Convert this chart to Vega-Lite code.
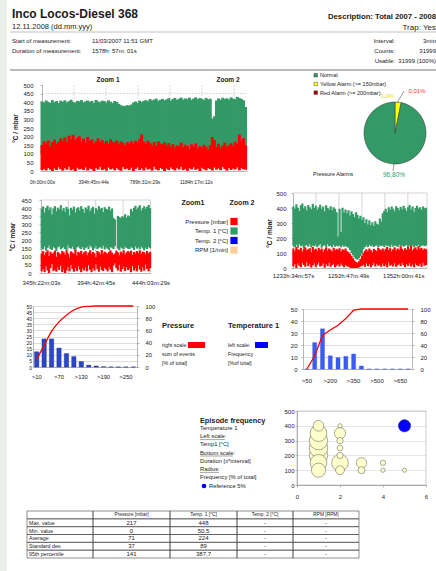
{
"$schema":"https://vega.github.io/schema/vega-lite/v6.json",
"width":436,"height":571,"padding":0,"autosize":{"type":"none"},"background":"white",
"config":{"view":{"stroke":null},"font":"Liberation Sans",
 "text":{"font":"Liberation Sans","fontSize":6,"color":"#1a1a1a","align":"left","baseline":"alphabetic"},
 "axis":{"labelFont":"Liberation Sans","labelFontSize":6,"labelColor":"#1a1a1a","domainColor":"#888","domainWidth":0.6,"tickColor":"#888","tickWidth":0.6,"tickSize":2,"labelPadding":2,"grid":false,"titleFont":"Liberation Sans","labelOverlap":false,"labelFlush":false,"titleColor":"#1a1a1a"}},
"resolve":{"scale":{"x":"independent","y":"independent","color":"independent","size":"independent","theta":"independent"},"axis":{"x":"independent","y":"independent"},"legend":{"color":"independent","size":"independent"}},
"layer":[
{"data":{"values":[
{"t":0,"gh":405,"ph":150,"pl":5},{"t":16,"gh":398,"ph":172,"pl":12},{"t":32,"gh":410,"ph":160,"pl":3},{"t":48,"gh":402,"ph":178,"pl":18},{"t":64,"gh":396,"ph":145,"pl":8},{"t":80,"gh":412,"ph":168,"pl":0},{"t":96,"gh":400,"ph":182,"pl":14},{"t":112,"gh":407,"ph":158,"pl":6},{"t":128,"gh":395,"ph":170,"pl":22},{"t":144,"gh":409,"ph":190,"pl":10},
{"t":160,"gh":403,"ph":175,"pl":2},{"t":176,"gh":411,"ph":196,"pl":16},{"t":192,"gh":399,"ph":168,"pl":7},{"t":208,"gh":406,"ph":205,"pl":25},{"t":224,"gh":414,"ph":185,"pl":4},{"t":240,"gh":401,"ph":210,"pl":11},{"t":256,"gh":397,"ph":178,"pl":0},{"t":272,"gh":408,"ph":192,"pl":19},{"t":288,"gh":404,"ph":202,"pl":9},{"t":304,"gh":412,"ph":170,"pl":13},
{"t":320,"gh":399,"ph":188,"pl":6},{"t":336,"gh":405,"ph":165,"pl":21},{"t":352,"gh":410,"ph":198,"pl":3},{"t":368,"gh":402,"ph":176,"pl":15},{"t":384,"gh":408,"ph":183,"pl":10},{"t":400,"gh":396,"ph":160,"pl":0},{"t":416,"gh":413,"ph":172,"pl":17},{"t":432,"gh":404,"ph":190,"pl":8},{"t":448,"gh":400,"ph":168,"pl":24},{"t":464,"gh":409,"ph":180,"pl":5},
{"t":480,"gh":406,"ph":162,"pl":12},{"t":496,"gh":398,"ph":175,"pl":2},{"t":512,"gh":411,"ph":158,"pl":20},{"t":528,"gh":403,"ph":184,"pl":9},{"t":544,"gh":395,"ph":170,"pl":14},{"t":560,"gh":407,"ph":166,"pl":4},{"t":576,"gh":401,"ph":178,"pl":18},{"t":592,"gh":390,"ph":155,"pl":7},{"t":608,"gh":382,"ph":172,"pl":1},{"t":624,"gh":379,"ph":163,"pl":23},
{"t":640,"gh":377,"ph":150,"pl":10},{"t":656,"gh":383,"ph":168,"pl":15},{"t":672,"gh":380,"ph":158,"pl":5},{"t":688,"gh":386,"ph":172,"pl":19},{"t":704,"gh":398,"ph":160,"pl":0},{"t":720,"gh":404,"ph":175,"pl":12},{"t":736,"gh":396,"ph":165,"pl":22},{"t":752,"gh":409,"ph":185,"pl":6},{"t":768,"gh":401,"ph":213,"pl":16},{"t":784,"gh":407,"ph":170,"pl":3},
{"t":800,"gh":412,"ph":158,"pl":20},{"t":816,"gh":405,"ph":176,"pl":8},{"t":832,"gh":418,"ph":162,"pl":13},{"t":848,"gh":410,"ph":150,"pl":2},{"t":864,"gh":415,"ph":168,"pl":25},{"t":880,"gh":421,"ph":145,"pl":9},{"t":896,"gh":408,"ph":172,"pl":4},{"t":912,"gh":414,"ph":160,"pl":17},{"t":928,"gh":419,"ph":155,"pl":11},{"t":944,"gh":411,"ph":166,"pl":0},
{"t":960,"gh":416,"ph":148,"pl":14},{"t":976,"gh":423,"ph":162,"pl":6},{"t":992,"gh":409,"ph":140,"pl":21},{"t":1008,"gh":418,"ph":156,"pl":10},{"t":1024,"gh":425,"ph":135,"pl":3},{"t":1040,"gh":413,"ph":150,"pl":18},{"t":1056,"gh":420,"ph":142,"pl":8},{"t":1072,"gh":427,"ph":165,"pl":24},{"t":1088,"gh":415,"ph":138,"pl":5},{"t":1104,"gh":422,"ph":152,"pl":12},
{"t":1120,"gh":418,"ph":146,"pl":1},{"t":1136,"gh":426,"ph":130,"pl":16},{"t":1152,"gh":414,"ph":155,"pl":9},{"t":1168,"gh":421,"ph":140,"pl":22},{"t":1184,"gh":428,"ph":160,"pl":7},{"t":1200,"gh":417,"ph":128,"pl":13},{"t":1216,"gh":424,"ph":145,"pl":0},{"t":1232,"gh":419,"ph":136,"pl":19},{"t":1248,"gh":412,"ph":152,"pl":10},{"t":1264,"gh":425,"ph":142,"pl":4},
{"t":1280,"gh":416,"ph":125,"pl":17},{"t":1296,"gh":420,"ph":150,"pl":11},{"t":1312,"gh":305,"ph":198,"pl":3},{"t":1328,"gh":318,"ph":180,"pl":20},{"t":1344,"gh":410,"ph":140,"pl":8},{"t":1360,"gh":422,"ph":158,"pl":15},{"t":1376,"gh":414,"ph":132,"pl":5},{"t":1392,"gh":426,"ph":148,"pl":23},{"t":1408,"gh":418,"ph":165,"pl":12},{"t":1424,"gh":423,"ph":140,"pl":2},
{"t":1440,"gh":415,"ph":150,"pl":18},{"t":1456,"gh":428,"ph":162,"pl":6},{"t":1472,"gh":420,"ph":145,"pl":14},{"t":1488,"gh":417,"ph":170,"pl":9},{"t":1504,"gh":431,"ph":158,"pl":21},{"t":1520,"gh":424,"ph":212,"pl":4},{"t":1536,"gh":419,"ph":175,"pl":16},{"t":1552,"gh":411,"ph":190,"pl":10},{"t":1568,"gh":372,"ph":150,"pl":7}
]},
"layer":[
{"data":{"values":[{"g":246.5},{"g":493},{"g":739.5},{"g":986},{"g":1232.5},{"g":1479}]},"mark":{"type":"rule","color":"#999","strokeWidth":0.5,"strokeDash":[1.5,1.5]},
 "encoding":{"x":{"field":"g","type":"quantitative","scale":{"domain":[0,1579],"range":[42,247],"nice":false,"zero":false}},"y":{"datum":0,"type":"quantitative","scale":{"domain":[0,500],"range":[171,85],"nice":false,"zero":false}},"y2":{"datum":500}}},
{"data":{"values":[{}]},"mark":{"type":"rule","color":"#999","strokeWidth":0.5,"strokeDash":[1.5,1.5]},"encoding":{"x":{"datum":0,"type":"quantitative"},"x2":{"datum":1579},"y":{"datum":450,"type":"quantitative"}}},
{"mark":{"type":"rule","color":"#339966","strokeWidth":3},
 "encoding":{"x":{"field":"t","type":"quantitative","title":null,"axis":{"orient":"bottom","offset":-400,"values":[0,394.76,789.52,1184.29],"labelExpr":"datum.value<1?'0h:00m:00s':datum.value<400?'394h:45m:44s':datum.value<800?'789h:31m:29s':'1184h:17m:12s'","tickSize":0,"labelPadding":8,"labelFontSize":4.8}},
  "y":{"field":"gh","type":"quantitative","title":"°C / mbar","axis":{"orient":"left","offset":-42,"values":[0,50,100,150,200,250,300,350,400,450,500],"titleX":-27,"titleY":128,"titleFontSize":6.5,"titleFontWeight":"bold","titleAngle":-90,"titleAlign":"center","titleBaseline":"middle","tickSize":2,"labelPadding":7,"labelFontSize":6}},
  "y2":{"datum":100}}},
{"mark":{"type":"rule","color":"#ff0000","strokeWidth":3},"encoding":{"x":{"field":"t","type":"quantitative"},"y":{"field":"ph","type":"quantitative"},"y2":{"field":"pl"}}}
]},
{"data":{"values":[
{"t":346.0,"gh":395,"gl":150,"ph":120,"pl":10},{"t":347.3,"gh":410,"gl":145,"ph":135,"pl":25},{"t":348.6,"gh":372,"gl":162,"ph":110,"pl":5},{"t":350.0,"gh":402,"gl":138,"ph":128,"pl":40},{"t":351.3,"gh":415,"gl":155,"ph":140,"pl":15},{"t":352.6,"gh":388,"gl":170,"ph":105,"pl":0},{"t":353.9,"gh":405,"gl":148,"ph":132,"pl":30},{"t":355.2,"gh":360,"gl":142,"ph":118,"pl":55},{"t":356.6,"gh":398,"gl":160,"ph":125,"pl":12},{"t":357.9,"gh":412,"gl":152,"ph":138,"pl":20},
{"t":359.2,"gh":380,"gl":135,"ph":100,"pl":8},{"t":360.5,"gh":403,"gl":158,"ph":130,"pl":35},{"t":361.8,"gh":392,"gl":165,"ph":122,"pl":18},{"t":363.2,"gh":418,"gl":146,"ph":115,"pl":45},{"t":364.5,"gh":385,"gl":153,"ph":136,"pl":5},{"t":365.8,"gh":400,"gl":160,"ph":128,"pl":22},{"t":367.1,"gh":376,"gl":148,"ph":112,"pl":0},{"t":368.4,"gh":408,"gl":140,"ph":140,"pl":15},{"t":369.8,"gh":395,"gl":172,"ph":120,"pl":38},{"t":371.1,"gh":355,"gl":155,"ph":95,"pl":10},
{"t":372.4,"gh":402,"gl":150,"ph":133,"pl":50},{"t":373.7,"gh":390,"gl":163,"ph":126,"pl":25},{"t":375.0,"gh":410,"gl":145,"ph":118,"pl":8},{"t":376.4,"gh":372,"gl":138,"ph":142,"pl":30},{"t":377.7,"gh":398,"gl":158,"ph":108,"pl":12},{"t":379.0,"gh":405,"gl":166,"ph":130,"pl":42},{"t":380.3,"gh":385,"gl":152,"ph":124,"pl":20},{"t":381.6,"gh":412,"gl":147,"ph":137,"pl":5},{"t":383.0,"gh":395,"gl":160,"ph":115,"pl":28},{"t":384.3,"gh":370,"gl":143,"ph":128,"pl":15},
{"t":385.6,"gh":404,"gl":155,"ph":135,"pl":35},{"t":386.9,"gh":392,"gl":162,"ph":110,"pl":10},{"t":388.2,"gh":415,"gl":148,"ph":126,"pl":48},{"t":389.6,"gh":380,"gl":170,"ph":140,"pl":20},{"t":390.9,"gh":398,"gl":158,"ph":118,"pl":5},{"t":392.2,"gh":408,"gl":140,"ph":130,"pl":30},{"t":393.5,"gh":365,"gl":152,"ph":122,"pl":15},{"t":394.8,"gh":400,"gl":165,"ph":98,"pl":55},{"t":396.2,"gh":388,"gl":147,"ph":136,"pl":25},{"t":397.5,"gh":412,"gl":156,"ph":128,"pl":8},
{"t":398.8,"gh":395,"gl":160,"ph":115,"pl":40},{"t":400.1,"gh":402,"gl":150,"ph":142,"pl":18},{"t":401.4,"gh":375,"gl":168,"ph":120,"pl":12},{"t":402.8,"gh":406,"gl":145,"ph":132,"pl":32},{"t":404.1,"gh":395,"gl":158,"ph":125,"pl":22},{"t":405.4,"gh":390,"gl":150,"ph":118,"pl":10},{"t":406.7,"gh":410,"gl":142,"ph":130,"pl":38},{"t":408.0,"gh":385,"gl":160,"ph":140,"pl":20},{"t":409.4,"gh":398,"gl":155,"ph":125,"pl":5},{"t":410.7,"gh":340,"gl":148,"ph":112,"pl":45},
{"t":412.0,"gh":330,"gl":165,"ph":120,"pl":60},{"t":413.3,"gh":160,"gl":160,"ph":138,"pl":30},{"t":414.6,"gh":352,"gl":150,"ph":128,"pl":15},{"t":416.0,"gh":345,"gl":140,"ph":110,"pl":50},{"t":417.3,"gh":338,"gl":158,"ph":132,"pl":8},{"t":418.6,"gh":350,"gl":152,"ph":122,"pl":25},{"t":419.9,"gh":345,"gl":146,"ph":140,"pl":40},{"t":421.2,"gh":362,"gl":162,"ph":116,"pl":12},{"t":422.6,"gh":340,"gl":154,"ph":128,"pl":35},{"t":423.9,"gh":355,"gl":150,"ph":135,"pl":18},
{"t":425.2,"gh":348,"gl":148,"ph":126,"pl":28},{"t":426.5,"gh":395,"gl":160,"ph":138,"pl":5},{"t":427.8,"gh":380,"gl":155,"ph":112,"pl":42},{"t":429.2,"gh":402,"gl":142,"ph":130,"pl":15},{"t":430.5,"gh":415,"gl":165,"ph":120,"pl":30},{"t":431.8,"gh":392,"gl":150,"ph":135,"pl":10},{"t":433.1,"gh":405,"gl":158,"ph":124,"pl":48},{"t":434.4,"gh":418,"gl":146,"ph":140,"pl":20},{"t":435.8,"gh":385,"gl":162,"ph":118,"pl":8},{"t":437.1,"gh":400,"gl":152,"ph":132,"pl":35},
{"t":438.4,"gh":412,"gl":140,"ph":128,"pl":15},{"t":439.7,"gh":395,"gl":156,"ph":115,"pl":52},{"t":441.0,"gh":408,"gl":148,"ph":136,"pl":25},{"t":442.4,"gh":420,"gl":160,"ph":122,"pl":10},{"t":443.7,"gh":400,"gl":152,"ph":130,"pl":30}
]},
"layer":[
{"data":{"values":[{"g":370.04},{"g":394.71},{"g":419.39},{"g":444.06}]},"mark":{"type":"rule","color":"#aaa","strokeWidth":0.5},
 "encoding":{"x":{"field":"g","type":"quantitative","scale":{"domain":[345.36,444.07],"range":[41,150.5],"nice":false,"zero":false}},"y":{"datum":0,"type":"quantitative","scale":{"domain":[0,450],"range":[273,200],"nice":false,"zero":false}},"y2":{"datum":450}}},
{"data":{"values":[{}]},"mark":{"type":"rule","color":"#aaa","strokeWidth":0.5},"encoding":{"x":{"datum":345.36,"type":"quantitative"},"x2":{"datum":444.07},"y":{"datum":450,"type":"quantitative"}}},
{"mark":{"type":"rule","color":"#339966","strokeWidth":2.2},
 "encoding":{"x":{"field":"t","type":"quantitative","title":null,"axis":{"orient":"bottom","offset":-298,"values":[345.37,394.7125,444.058],"labelExpr":"datum.value<350?'345h:22m:03s':datum.value<400?'394h:42m:45s':'444h:03m:29s'","tickSize":0,"labelPadding":6,"labelFontSize":6}},
  "y":{"field":"gh","type":"quantitative","title":"°C / mbar","axis":{"orient":"left","offset":-41,"values":[0,50,100,150,200,250,300,350,400,450],"titleX":-29,"titleY":236.5,"titleFontSize":6.5,"titleFontWeight":"bold","titleAngle":-90,"titleAlign":"center","titleBaseline":"middle","tickSize":2,"labelPadding":8,"labelFontSize":6}},
  "y2":{"field":"gl"}}},
{"mark":{"type":"rule","color":"#ff0000","strokeWidth":2.2},"encoding":{"x":{"field":"t","type":"quantitative"},"y":{"field":"ph","type":"quantitative"},"y2":{"field":"pl"}}}
]},
{"data":{"values":[
{"t":1234.0,"gh":410,"gl":150,"ph":130,"pl":10},{"t":1235.6,"gh":395,"gl":140,"ph":115,"pl":25},{"t":1237.2,"gh":425,"gl":155,"ph":140,"pl":0},{"t":1238.8,"gh":402,"gl":135,"ph":125,"pl":30},{"t":1240.4,"gh":380,"gl":160,"ph":120,"pl":15},{"t":1242.0,"gh":418,"gl":145,"ph":135,"pl":5},{"t":1243.6,"gh":430,"gl":150,"ph":110,"pl":35},{"t":1245.2,"gh":398,"gl":130,"ph":128,"pl":20},{"t":1246.8,"gh":412,"gl":148,"ph":138,"pl":8},{"t":1248.4,"gh":385,"gl":155,"ph":118,"pl":40},
{"t":1250.0,"gh":420,"gl":142,"ph":125,"pl":12},{"t":1251.6,"gh":405,"gl":158,"ph":132,"pl":28},{"t":1253.2,"gh":392,"gl":138,"ph":105,"pl":3},{"t":1254.8,"gh":428,"gl":150,"ph":140,"pl":18},{"t":1256.4,"gh":400,"gl":145,"ph":122,"pl":32},{"t":1258.0,"gh":415,"gl":155,"ph":128,"pl":6},{"t":1259.6,"gh":388,"gl":140,"ph":112,"pl":22},{"t":1261.2,"gh":405,"gl":150,"ph":135,"pl":38},{"t":1262.8,"gh":422,"gl":160,"ph":120,"pl":10},{"t":1264.4,"gh":395,"gl":135,"ph":130,"pl":15},
{"t":1266.0,"gh":410,"gl":148,"ph":108,"pl":30},{"t":1267.6,"gh":378,"gl":152,"ph":125,"pl":2},{"t":1269.2,"gh":418,"gl":140,"ph":138,"pl":25},{"t":1270.8,"gh":400,"gl":158,"ph":115,"pl":12},{"t":1272.4,"gh":390,"gl":145,"ph":130,"pl":35},{"t":1274.0,"gh":412,"gl":150,"ph":122,"pl":8},{"t":1275.6,"gh":385,"gl":138,"ph":110,"pl":20},{"t":1277.2,"gh":405,"gl":155,"ph":135,"pl":28},{"t":1278.8,"gh":395,"gl":142,"ph":118,"pl":5},{"t":1280.4,"gh":372,"gl":148,"ph":128,"pl":15},
{"t":1282.0,"gh":210,"gl":145,"ph":120,"pl":25},{"t":1283.6,"gh":395,"gl":150,"ph":132,"pl":10},{"t":1285.2,"gh":240,"gl":138,"ph":110,"pl":30},{"t":1286.8,"gh":402,"gl":150,"ph":125,"pl":15},{"t":1288.4,"gh":370,"gl":142,"ph":118,"pl":5},{"t":1290.0,"gh":390,"gl":148,"ph":130,"pl":20},{"t":1291.6,"gh":365,"gl":140,"ph":112,"pl":12},{"t":1293.2,"gh":385,"gl":135,"ph":105,"pl":8},{"t":1294.8,"gh":350,"gl":120,"ph":95,"pl":3},{"t":1296.4,"gh":378,"gl":100,"ph":80,"pl":0},
{"t":1298.0,"gh":360,"gl":85,"ph":65,"pl":0},{"t":1299.6,"gh":340,"gl":70,"ph":50,"pl":0},{"t":1301.2,"gh":372,"gl":60,"ph":40,"pl":0},{"t":1302.8,"gh":355,"gl":55,"ph":35,"pl":0},{"t":1304.4,"gh":330,"gl":65,"ph":45,"pl":5},{"t":1306.0,"gh":348,"gl":80,"ph":60,"pl":10},{"t":1307.6,"gh":320,"gl":100,"ph":80,"pl":15},{"t":1309.2,"gh":338,"gl":125,"ph":100,"pl":22},{"t":1310.8,"gh":300,"gl":140,"ph":115,"pl":8},{"t":1312.4,"gh":325,"gl":150,"ph":125,"pl":30},
{"t":1314.0,"gh":290,"gl":140,"ph":110,"pl":12},{"t":1315.6,"gh":318,"gl":155,"ph":130,"pl":25},{"t":1317.2,"gh":285,"gl":145,"ph":118,"pl":5},{"t":1318.8,"gh":305,"gl":150,"ph":105,"pl":18},{"t":1320.4,"gh":280,"gl":140,"ph":128,"pl":35},{"t":1322.0,"gh":312,"gl":148,"ph":120,"pl":10},{"t":1323.6,"gh":295,"gl":152,"ph":112,"pl":28},{"t":1325.2,"gh":288,"gl":138,"ph":135,"pl":15},{"t":1326.8,"gh":330,"gl":150,"ph":125,"pl":20},{"t":1328.4,"gh":310,"gl":145,"ph":118,"pl":8},
{"t":1330.0,"gh":365,"gl":150,"ph":130,"pl":30},{"t":1331.6,"gh":380,"gl":140,"ph":115,"pl":12},{"t":1333.2,"gh":395,"gl":155,"ph":128,"pl":25},{"t":1334.8,"gh":372,"gl":145,"ph":140,"pl":5},{"t":1336.4,"gh":405,"gl":150,"ph":120,"pl":38},{"t":1338.0,"gh":388,"gl":138,"ph":132,"pl":15},{"t":1339.6,"gh":410,"gl":155,"ph":110,"pl":22},{"t":1341.2,"gh":395,"gl":142,"ph":125,"pl":10},{"t":1342.8,"gh":378,"gl":150,"ph":138,"pl":32},{"t":1344.4,"gh":412,"gl":148,"ph":118,"pl":8},
{"t":1346.0,"gh":400,"gl":140,"ph":130,"pl":20},{"t":1347.6,"gh":385,"gl":155,"ph":122,"pl":28},{"t":1349.2,"gh":408,"gl":145,"ph":145,"pl":12},{"t":1350.8,"gh":392,"gl":150,"ph":128,"pl":35},{"t":1352.4,"gh":415,"gl":142,"ph":115,"pl":18},{"t":1354.0,"gh":398,"gl":148,"ph":132,"pl":6},{"t":1355.6,"gh":380,"gl":155,"ph":120,"pl":25},{"t":1357.2,"gh":405,"gl":140,"ph":140,"pl":15},{"t":1358.8,"gh":420,"gl":150,"ph":125,"pl":32},{"t":1360.4,"gh":390,"gl":145,"ph":150,"pl":10},
{"t":1362.0,"gh":410,"gl":152,"ph":118,"pl":22},{"t":1363.6,"gh":375,"gl":138,"ph":130,"pl":5},{"t":1365.2,"gh":400,"gl":150,"ph":138,"pl":30},{"t":1366.8,"gh":415,"gl":145,"ph":122,"pl":18},{"t":1368.4,"gh":395,"gl":155,"ph":145,"pl":12},{"t":1370.0,"gh":405,"gl":140,"ph":128,"pl":28},{"t":1371.6,"gh":388,"gl":148,"ph":135,"pl":8},{"t":1373.2,"gh":410,"gl":152,"ph":120,"pl":35},{"t":1374.8,"gh":398,"gl":145,"ph":130,"pl":15},{"t":1376.4,"gh":402,"gl":150,"ph":125,"pl":20}
]},
"layer":[
{"data":{"values":[{"g":1258.25},{"g":1282.92},{"g":1307.59},{"g":1332.26},{"g":1356.93},{"g":1377.5}]},"mark":{"type":"rule","color":"#aaa","strokeWidth":0.5},
 "encoding":{"x":{"field":"g","type":"quantitative","scale":{"domain":[1233.58,1377.5],"range":[293,427],"nice":false,"zero":false}},"y":{"datum":0,"type":"quantitative","scale":{"domain":[0,500],"range":[268,193],"nice":false,"zero":false}},"y2":{"datum":500}}},
{"data":{"values":[{}]},"mark":{"type":"rule","color":"#aaa","strokeWidth":0.5},"encoding":{"x":{"datum":1233.58,"type":"quantitative"},"x2":{"datum":1377.5},"y":{"datum":500,"type":"quantitative"}}},
{"mark":{"type":"rule","color":"#339966","strokeWidth":2.2},
 "encoding":{"x":{"field":"t","type":"quantitative","title":null,"axis":{"orient":"bottom","offset":-303,"values":[1233.5825,1292.7969,1352.0114],"labelExpr":"datum.value<1240?'1233h:34m:57s':datum.value<1300?'1292h:47m:49s':'1352h:00m:41s'","tickSize":0,"labelPadding":4,"labelFontSize":6}},
  "y":{"field":"gh","type":"quantitative","title":"°C / mbar","axis":{"orient":"left","offset":-293,"values":[0,100,200,300,400,500],"titleX":-24,"titleY":233,"titleFontSize":6.5,"titleFontWeight":"bold","titleAngle":-90,"titleAlign":"center","titleBaseline":"middle","tickSize":2,"labelPadding":5,"labelFontSize":6}},
  "y2":{"field":"gl"}}},
{"mark":{"type":"rule","color":"#ff0000","strokeWidth":2.2},"encoding":{"x":{"field":"t","type":"quantitative"},"y":{"field":"ph","type":"quantitative"},"y2":{"field":"pl"}}}
]},
{"data":{"values":[
{"c":">10","f":12.5,"cum":12.5},{"c":">30","f":23,"cum":35.5},{"c":">50","f":23,"cum":58.5},{"c":">70","f":15.5,"cum":74},{"c":">90","f":11,"cum":85},{"c":">110","f":8.5,"cum":93.5},{"c":">130","f":4.5,"cum":98},{"c":">150","f":1.5,"cum":99.5},{"c":">170","f":0.8,"cum":100},{"c":">190","f":0.2,"cum":100},{"c":">210","f":0,"cum":100},{"c":">230","f":0,"cum":100},{"c":">250","f":0,"cum":100},{"c":">270","f":0,"cum":100}]},
"resolve":{"scale":{"y":"independent"},"axis":{"y":"independent"}},
"layer":[
{"mark":{"type":"bar","color":"#2b48c9","stroke":"#0f2080","strokeWidth":0.4},
 "encoding":{"x":{"field":"c","type":"nominal","sort":null,"title":null,"scale":{"range":[33,137],"paddingInner":0.42,"paddingOuter":0.21},"axis":{"orient":"bottom","offset":-204,"values":[">10",">70",">130",">190",">250"],"labelAngle":0,"tickSize":0,"labelPadding":6,"labelFontSize":5.8}},
  "y":{"field":"f","type":"quantitative","title":null,"scale":{"domain":[0,50],"range":[367,306],"nice":false,"zero":false},"axis":{"orient":"left","offset":-33,"values":[0,5,10,15,20,25,30,35,40,45,50],"grid":true,"gridColor":"#bbb","gridWidth":0.5,"tickSize":0,"labelPadding":1.5,"labelFontSize":5}}}},
{"mark":{"type":"line","color":"#ff0000","strokeWidth":1.3,"interpolate":"monotone"},
 "encoding":{"x":{"field":"c","type":"nominal","sort":null},
  "y":{"field":"cum","type":"quantitative","title":null,"scale":{"domain":[0,100],"range":[367,306],"nice":false,"zero":false},"axis":{"orient":"right","offset":-299,"values":[0,20,40,60,80,100],"tickSize":2,"labelPadding":6,"labelFontSize":5.8}}}}
]},
{"data":{"values":[
{"c":">50","f":0,"cum":0},{"c":">100","f":22,"cum":22},{"c":">150","f":33.5,"cum":56},{"c":">200","f":11,"cum":65},{"c":">250","f":9.5,"cum":73},{"c":">300","f":10.5,"cum":84},{"c":">350","f":12.5,"cum":98},{"c":">400","f":2.5,"cum":100},{"c":">450","f":0,"cum":100},{"c":">500","f":0,"cum":100},{"c":">550","f":0,"cum":100},{"c":">600","f":0,"cum":100},{"c":">650","f":0,"cum":100},{"c":">700","f":0,"cum":100}]},
"resolve":{"scale":{"y":"independent"},"axis":{"y":"independent"}},
"layer":[
{"mark":{"type":"bar","color":"#3a5cff","stroke":"#2040d0","strokeWidth":0.3},
 "encoding":{"x":{"field":"c","type":"nominal","sort":null,"title":null,"scale":{"range":[303,412],"paddingInner":0.48,"paddingOuter":0.24},"axis":{"orient":"bottom","offset":-202,"values":[">50",">200",">350",">500",">650"],"labelAngle":0,"tickSize":0,"labelPadding":8,"labelFontSize":6}},
  "y":{"field":"f","type":"quantitative","title":null,"scale":{"domain":[0,50],"range":[369,309],"nice":false,"zero":false},"axis":{"orient":"left","offset":-303,"values":[0,10,20,30,40,50],"grid":true,"gridColor":"#bbb","gridWidth":0.5,"tickSize":2,"labelPadding":4,"labelFontSize":6}}}},
{"mark":{"type":"line","color":"#ff0000","strokeWidth":1.3},
 "encoding":{"x":{"field":"c","type":"nominal","sort":null},
  "y":{"field":"cum","type":"quantitative","title":null,"scale":{"domain":[0,100],"range":[369,309],"nice":false,"zero":false},"axis":{"orient":"right","offset":-24,"values":[0,20,40,60,80,100],"tickSize":2,"labelPadding":6,"labelFontSize":6}}}}
]},
{"data":{"values":[
{"d":1,"temp":100,"f":6.5,"kind":"episode"},{"d":1,"temp":150,"f":9,"kind":"episode"},{"d":1,"temp":200,"f":11,"kind":"episode"},{"d":1,"temp":250,"f":11,"kind":"episode"},{"d":1,"temp":300,"f":11,"kind":"episode"},{"d":1,"temp":350,"f":9,"kind":"episode"},{"d":1,"temp":400,"f":3.7,"kind":"episode"},
{"d":2,"temp":100,"f":2.5,"kind":"episode"},{"d":2,"temp":150,"f":9,"kind":"episode"},{"d":2,"temp":200,"f":1.3,"kind":"episode"},{"d":2,"temp":250,"f":1.1,"kind":"episode"},{"d":2,"temp":300,"f":1.3,"kind":"episode"},{"d":2,"temp":350,"f":4.1,"kind":"episode"},{"d":2,"temp":400,"f":0.6,"kind":"episode"},
{"d":3,"temp":100,"f":1.6,"kind":"episode"},{"d":3,"temp":150,"f":3.5,"kind":"episode"},{"d":4,"temp":100,"f":0.6,"kind":"episode"},{"d":4,"temp":150,"f":0.9,"kind":"episode"},{"d":5,"temp":100,"f":0.55,"kind":"episode"},{"d":5,"temp":400,"f":5,"kind":"reference"}]},
"layer":[
{"data":{"values":[{}]},"mark":{"type":"rect","fillOpacity":0,"stroke":"#999","strokeWidth":0.5},
 "encoding":{"x":{"datum":0,"type":"quantitative","scale":{"domain":[0,6],"range":[297,426],"nice":false,"zero":false}},"x2":{"datum":6},"y":{"datum":0,"type":"quantitative","scale":{"domain":[0,500],"range":[485,411],"nice":false,"zero":false}},"y2":{"datum":500}}},
{"mark":{"type":"circle","stroke":"#555","strokeWidth":0.5,"opacity":1},
 "encoding":{"x":{"field":"d","type":"quantitative","title":null,"axis":{"orient":"bottom","offset":-86,"values":[0,2,4,6],"format":"d","tickSize":2,"labelPadding":6,"labelFontSize":6}},
  "y":{"field":"temp","type":"quantitative","title":null,"axis":{"orient":"left","offset":-297,"values":[0,100,200,300,400,500],"format":"d","grid":true,"gridColor":"#ccc","gridWidth":0.5,"tickSize":2,"labelPadding":1,"labelFontSize":6}},
  "size":{"field":"f","type":"quantitative","scale":{"domain":[0,5],"range":[0,154]},"legend":null},
  "color":{"field":"kind","type":"nominal","scale":{"domain":["episode","reference"],"range":["#ffffcc","#0000ff"]},"legend":null},
  "order":{"field":"f","type":"quantitative","sort":"descending"}}}
]},
{"data":{"values":[{"alarm":"Red Alarm (>= 200mbar)","pct":0.01,"o":1},{"alarm":"Yellow Alarm (>= 150mbar)","pct":3.19,"o":2},{"alarm":"Normal","pct":96.8,"o":3}]},
 "mark":{"type":"arc","outerRadius":31,"stroke":"#333","strokeWidth":0.5},
 "encoding":{"theta":{"field":"pct","type":"quantitative","stack":true},"order":{"field":"o","type":"quantitative"},
  "color":{"field":"alarm","type":"nominal","scale":{"domain":["Normal","Yellow Alarm (>= 150mbar)","Red Alarm (>= 200mbar)"],"range":["#339966","#ffff00","#aa0000"]},"legend":{"orient":"none","legendX":313,"legendY":72.5,"title":null,"symbolType":"square","symbolSize":13,"symbolStrokeColor":"#333","symbolStrokeWidth":0.4,"labelFontSize":5.5,"labelOffset":1.5,"rowPadding":1.7,"labelColor":"#222","padding":0}},
  "x":{"datum":395,"type":"quantitative","scale":{"domain":[0,436],"range":[0,436],"nice":false,"zero":false},"axis":null},
  "y":{"datum":133,"type":"quantitative","scale":{"domain":[0,571],"range":[0,571],"nice":false,"zero":false},"axis":null}}},
{"data":{"values":[{"s":"Pressure [mbar]"},{"s":"Temp. 1 [°C]"},{"s":"Temp. 2 [°C]"},{"s":"RPM [1/min]"}]},
 "mark":{"type":"square","size":52,"opacity":1},
 "encoding":{"x":{"datum":234,"type":"quantitative","scale":{"domain":[0,436],"range":[0,436],"nice":false,"zero":false},"axis":null},
  "y":{"field":"s","type":"nominal","sort":null,"scale":{"type":"point","range":[221.5,250],"padding":0},"axis":null},
  "color":{"field":"s","type":"nominal","sort":null,"scale":{"domain":["Pressure [mbar]","Temp. 1 [°C]","Temp. 2 [°C]","RPM [1/min]"],"range":["#ff0000","#339966","#0000ff","#ffcc99"]},"legend":null}}},
{"data":{"values":[
{"r":"hdr","c":"L","v":""},{"r":"Max. value","c":"L","v":"Max. value"},{"r":"Min. value","c":"L","v":"Min. value"},{"r":"Average","c":"L","v":"Average"},{"r":"Standard dev.","c":"L","v":"Standard dev."},{"r":"95th percentile","c":"L","v":"95th percentile"},
{"r":"hdr","c":"P","v":"Pressure [mbar]"},{"r":"Max. value","c":"P","v":"217"},{"r":"Min. value","c":"P","v":"0"},{"r":"Average","c":"P","v":"71"},{"r":"Standard dev.","c":"P","v":"37"},{"r":"95th percentile","c":"P","v":"141"},
{"r":"hdr","c":"T1","v":"Temp. 1 [°C]"},{"r":"Max. value","c":"T1","v":"448"},{"r":"Min. value","c":"T1","v":"50,5"},{"r":"Average","c":"T1","v":"224"},{"r":"Standard dev.","c":"T1","v":"89"},{"r":"95th percentile","c":"T1","v":"387,7"},
{"r":"hdr","c":"T2","v":"Temp. 2 [°C]"},{"r":"Max. value","c":"T2","v":"-"},{"r":"Min. value","c":"T2","v":"-"},{"r":"Average","c":"T2","v":"-"},{"r":"Standard dev.","c":"T2","v":"-"},{"r":"95th percentile","c":"T2","v":"-"},
{"r":"hdr","c":"R","v":"RPM [RPM]"},{"r":"Max. value","c":"R","v":"-"},{"r":"Min. value","c":"R","v":"-"},{"r":"Average","c":"R","v":"-"},{"r":"Standard dev.","c":"R","v":"-"},{"r":"95th percentile","c":"R","v":"-"}]},
"layer":[
{"transform":[{"filter":"datum.c=='L'"}],"layer":[
 {"mark":{"type":"rect","fillOpacity":0,"stroke":"#444","strokeWidth":0.6},"encoding":{"x":{"datum":27,"type":"quantitative","scale":{"domain":[0,436],"range":[0,436],"nice":false,"zero":false},"axis":null},"x2":{"datum":93},"y":{"field":"r","type":"nominal","sort":null,"scale":{"domain":["hdr","Max. value","Min. value","Average","Standard dev.","95th percentile"],"range":[511,558],"paddingInner":0,"paddingOuter":0},"axis":null}}},
 {"mark":{"type":"text","align":"left","baseline":"middle","fontSize":5.3},"encoding":{"x":{"datum":29,"type":"quantitative"},"y":{"field":"r","type":"nominal","bandPosition":0.5},"text":{"field":"v"}}}]},
{"transform":[{"filter":"datum.c=='P'"}],"layer":[
 {"mark":{"type":"rect","fillOpacity":0,"stroke":"#444","strokeWidth":0.6},"encoding":{"x":{"datum":93,"type":"quantitative"},"x2":{"datum":170},"y":{"field":"r","type":"nominal"}}},
 {"mark":{"type":"text","align":"center","baseline":"middle"},"encoding":{"x":{"datum":131.5,"type":"quantitative"},"y":{"field":"r","type":"nominal","bandPosition":0.5},"text":{"field":"v"},"size":{"condition":{"test":"datum.r=='hdr'","value":4.8},"value":6}}}]},
{"transform":[{"filter":"datum.c=='T1'"}],"layer":[
 {"mark":{"type":"rect","fillOpacity":0,"stroke":"#444","strokeWidth":0.6},"encoding":{"x":{"datum":170,"type":"quantitative"},"x2":{"datum":237},"y":{"field":"r","type":"nominal"}}},
 {"mark":{"type":"text","align":"center","baseline":"middle"},"encoding":{"x":{"datum":203.5,"type":"quantitative"},"y":{"field":"r","type":"nominal","bandPosition":0.5},"text":{"field":"v"},"size":{"condition":{"test":"datum.r=='hdr'","value":4.8},"value":6}}}]},
{"transform":[{"filter":"datum.c=='T2'"}],"layer":[
 {"mark":{"type":"rect","fillOpacity":0,"stroke":"#444","strokeWidth":0.6},"encoding":{"x":{"datum":237,"type":"quantitative"},"x2":{"datum":293},"y":{"field":"r","type":"nominal"}}},
 {"mark":{"type":"text","align":"center","baseline":"middle"},"encoding":{"x":{"datum":265,"type":"quantitative"},"y":{"field":"r","type":"nominal","bandPosition":0.5},"text":{"field":"v"},"size":{"condition":{"test":"datum.r=='hdr'","value":4.8},"value":6}}}]},
{"transform":[{"filter":"datum.c=='R'"}],"layer":[
 {"mark":{"type":"rect","fillOpacity":0,"stroke":"#444","strokeWidth":0.6},"encoding":{"x":{"datum":293,"type":"quantitative"},"x2":{"datum":359},"y":{"field":"r","type":"nominal"}}},
 {"mark":{"type":"text","align":"center","baseline":"middle"},"encoding":{"x":{"datum":326,"type":"quantitative"},"y":{"field":"r","type":"nominal","bandPosition":0.5},"text":{"field":"v"},"size":{"condition":{"test":"datum.r=='hdr'","value":4.8},"value":6}}}]}
]},
{"layer":[
{"data":{"values":[{}]},"mark":{"type":"rect","fill":"#eceeec"},"encoding":{"x":{"datum":0,"type":"quantitative","scale":{"domain":[0,436],"range":[0,436],"nice":false,"zero":false},"axis":null},"x2":{"datum":7},"y":{"datum":0,"type":"quantitative","scale":{"domain":[0,571],"range":[0,571],"nice":false,"zero":false},"axis":null},"y2":{"datum":571}}},
{"data":{"values":[{"txt":"Inco Locos-Diesel 368"}]},"mark":{"type":"text","fontSize":12,"fontWeight":"bold"},"encoding":{"x":{"datum":12,"type":"quantitative"},"y":{"datum":18,"type":"quantitative"},"text":{"field":"txt"}}},
{"data":{"values":[{"txt":"12.11.2008 (dd.mm.yyy)"}]},"mark":{"type":"text","fontSize":7.5},"encoding":{"x":{"datum":12,"type":"quantitative"},"y":{"datum":28.5,"type":"quantitative"},"text":{"field":"txt"}}},
{"data":{"values":[{"txt":"Description: Total 2007 - 2008"}]},"mark":{"type":"text","fontSize":7.7,"fontWeight":"bold","align":"right"},"encoding":{"x":{"datum":436,"type":"quantitative"},"y":{"datum":19,"type":"quantitative"},"text":{"field":"txt"}}},
{"data":{"values":[{"txt":"Trap: Yes"}]},"mark":{"type":"text","fontSize":8,"align":"right"},"encoding":{"x":{"datum":436,"type":"quantitative"},"y":{"datum":29.5,"type":"quantitative"},"text":{"field":"txt"}}},
{"data":{"values":[{}]},"mark":{"type":"rule","color":"#999","strokeWidth":0.6},"encoding":{"x":{"datum":10,"type":"quantitative"},"x2":{"datum":436},"y":{"datum":32,"type":"quantitative"}}},
{"data":{"values":[{"txt":"Start of measurement:\nDuration of measurement:"}]},"mark":{"type":"text","fontSize":6,"lineBreak":"\n","lineHeight":10},"encoding":{"x":{"datum":12,"type":"quantitative"},"y":{"datum":42.5,"type":"quantitative"},"text":{"field":"txt"}}},
{"data":{"values":[{"txt":"11/03/2007 11:51 GMT\n1578h: 57m: 01s"}]},"mark":{"type":"text","fontSize":6,"lineBreak":"\n","lineHeight":10},"encoding":{"x":{"datum":92,"type":"quantitative"},"y":{"datum":42.5,"type":"quantitative"},"text":{"field":"txt"}}},
{"data":{"values":[{"txt":"Interval:\nCounts:\nUsable:"}]},"mark":{"type":"text","fontSize":6,"align":"right","lineBreak":"\n","lineHeight":10},"encoding":{"x":{"datum":395,"type":"quantitative"},"y":{"datum":42.5,"type":"quantitative"},"text":{"field":"txt"}}},
{"data":{"values":[{"txt":"3min\n31999\n31999 (100%)"}]},"mark":{"type":"text","fontSize":6,"align":"right","lineBreak":"\n","lineHeight":10},"encoding":{"x":{"datum":436,"type":"quantitative"},"y":{"datum":42.5,"type":"quantitative"},"text":{"field":"txt"}}},
{"data":{"values":[{}]},"mark":{"type":"rule","color":"#555","strokeWidth":0.8},"encoding":{"x":{"datum":10,"type":"quantitative"},"x2":{"datum":436},"y":{"datum":70,"type":"quantitative"}}},
{"data":{"values":[{"txt":"Zoom 1"}]},"mark":{"type":"text","fontSize":6.5,"fontWeight":"bold","align":"center"},"encoding":{"x":{"datum":108,"type":"quantitative"},"y":{"datum":82,"type":"quantitative"},"text":{"field":"txt"}}},
{"data":{"values":[{"txt":"Zoom 2"}]},"mark":{"type":"text","fontSize":6.5,"fontWeight":"bold","align":"center"},"encoding":{"x":{"datum":228,"type":"quantitative"},"y":{"datum":82,"type":"quantitative"},"text":{"field":"txt"}}},
{"data":{"values":[{"txt":"0,01%"}]},"mark":{"type":"text","fontSize":6,"align":"center","color":"#ff3333"},"encoding":{"x":{"datum":417,"type":"quantitative"},"y":{"datum":93,"type":"quantitative"},"text":{"field":"txt"}}},
{"data":{"values":[{"txt":"3,19%"}]},"mark":{"type":"text","fontSize":4.5,"align":"center","color":"#e0e000"},"encoding":{"x":{"datum":387,"type":"quantitative"},"y":{"datum":97.5,"type":"quantitative"},"text":{"field":"txt"}}},
{"data":{"values":[{"txt":"96,80%"}]},"mark":{"type":"text","fontSize":6.5,"align":"center","color":"#339966"},"encoding":{"x":{"datum":394,"type":"quantitative"},"y":{"datum":177,"type":"quantitative"},"text":{"field":"txt"}}},
{"data":{"values":[{"txt":"Pressure Alarms"}]},"mark":{"type":"text","fontSize":5.5},"encoding":{"x":{"datum":313,"type":"quantitative"},"y":{"datum":176,"type":"quantitative"},"text":{"field":"txt"}}},
{"data":{"values":[{}]},"mark":{"type":"rule","color":"#333","strokeWidth":0.5},"encoding":{"x":{"datum":397,"type":"quantitative"},"x2":{"datum":404},"y":{"datum":103,"type":"quantitative"},"y2":{"datum":91}}},
{"data":{"values":[{}]},"mark":{"type":"rule","color":"#333","strokeWidth":0.5},"encoding":{"x":{"datum":394,"type":"quantitative"},"x2":{"datum":393},"y":{"datum":164,"type":"quantitative"},"y2":{"datum":171}}},
{"data":{"values":[{"txt":"Zoom1"}]},"mark":{"type":"text","fontSize":7,"fontWeight":"bold","align":"center"},"encoding":{"x":{"datum":193,"type":"quantitative"},"y":{"datum":205,"type":"quantitative"},"text":{"field":"txt"}}},
{"data":{"values":[{"txt":"Zoom 2"}]},"mark":{"type":"text","fontSize":7,"fontWeight":"bold","align":"center"},"encoding":{"x":{"datum":242,"type":"quantitative"},"y":{"datum":205,"type":"quantitative"},"text":{"field":"txt"}}},
{"data":{"values":[{"txt":"Pressure [mbar]\nTemp. 1 [°C]\nTemp. 2 [°C]\nRPM [1/min]"}]},"mark":{"type":"text","fontSize":6,"align":"right","lineBreak":"\n","lineHeight":9.5},"encoding":{"x":{"datum":228,"type":"quantitative"},"y":{"datum":223.5,"type":"quantitative"},"text":{"field":"txt"}}},
{"data":{"values":[{"txt":"Pressure"}]},"mark":{"type":"text","fontSize":7.5,"fontWeight":"bold"},"encoding":{"x":{"datum":162,"type":"quantitative"},"y":{"datum":328,"type":"quantitative"},"text":{"field":"txt"}}},
{"data":{"values":[{"txt":"right scale:\nsum of events\n[% of total]"}]},"mark":{"type":"text","fontSize":5.3,"lineBreak":"\n","lineHeight":9},"encoding":{"x":{"datum":162,"type":"quantitative"},"y":{"datum":347,"type":"quantitative"},"text":{"field":"txt"}}},
{"data":{"values":[{}]},"mark":{"type":"rect","fill":"#ff0000"},"encoding":{"x":{"datum":188,"type":"quantitative"},"x2":{"datum":205},"y":{"datum":342,"type":"quantitative"},"y2":{"datum":348}}},
{"data":{"values":[{"txt":"Temperature 1"}]},"mark":{"type":"text","fontSize":7.5,"fontWeight":"bold"},"encoding":{"x":{"datum":228,"type":"quantitative"},"y":{"datum":328,"type":"quantitative"},"text":{"field":"txt"}}},
{"data":{"values":[{"txt":"left scale:\nFrequency\n[%of total]"}]},"mark":{"type":"text","fontSize":5.3,"lineBreak":"\n","lineHeight":9},"encoding":{"x":{"datum":228,"type":"quantitative"},"y":{"datum":347,"type":"quantitative"},"text":{"field":"txt"}}},
{"data":{"values":[{}]},"mark":{"type":"rect","fill":"#0000ff"},"encoding":{"x":{"datum":255,"type":"quantitative"},"x2":{"datum":268},"y":{"datum":342,"type":"quantitative"},"y2":{"datum":348}}},
{"data":{"values":[{"txt":"Episode frequency"}]},"mark":{"type":"text","fontSize":7.3,"fontWeight":"bold"},"encoding":{"x":{"datum":200,"type":"quantitative"},"y":{"datum":423,"type":"quantitative"},"text":{"field":"txt"}}},
{"data":{"values":[{"txt":"Temperature 1\nLeft scale:\nTemp1 [°C]\nBottom scale:\nDuration [x*interval]\nRadius:\nFrequency [% of total]"}]},"mark":{"type":"text","fontSize":5.8,"lineBreak":"\n","lineHeight":8.2},"encoding":{"x":{"datum":200,"type":"quantitative"},"y":{"datum":430,"type":"quantitative"},"text":{"field":"txt"}}},
{"data":{"values":[{}]},"mark":{"type":"rule","color":"#1a1a1a","strokeWidth":0.4},"encoding":{"x":{"datum":200,"type":"quantitative"},"x2":{"datum":225},"y":{"datum":439.6,"type":"quantitative"}}},
{"data":{"values":[{}]},"mark":{"type":"rule","color":"#1a1a1a","strokeWidth":0.4},"encoding":{"x":{"datum":200,"type":"quantitative"},"x2":{"datum":233},"y":{"datum":456,"type":"quantitative"}}},
{"data":{"values":[{}]},"mark":{"type":"rule","color":"#1a1a1a","strokeWidth":0.4},"encoding":{"x":{"datum":200,"type":"quantitative"},"x2":{"datum":219},"y":{"datum":472.4,"type":"quantitative"}}},
{"data":{"values":[{}]},"mark":{"type":"circle","size":22,"color":"#0000ff","opacity":1},"encoding":{"x":{"datum":204,"type":"quantitative"},"y":{"datum":486,"type":"quantitative"}}},
{"data":{"values":[{"txt":"Reference 5%"}]},"mark":{"type":"text","fontSize":5.8},"encoding":{"x":{"datum":209,"type":"quantitative"},"y":{"datum":488,"type":"quantitative"},"text":{"field":"txt"}}}
]}
]
}
